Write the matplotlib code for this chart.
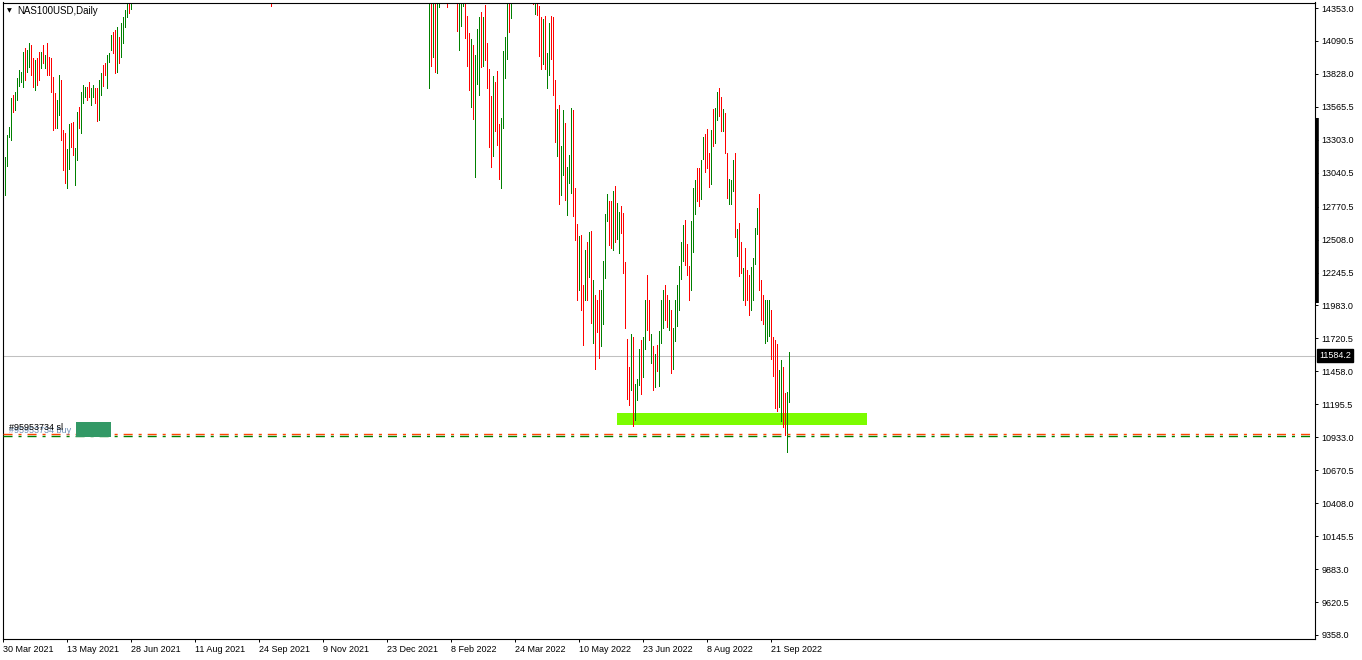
import matplotlib
matplotlib.use("Agg")
import matplotlib.pyplot as plt
from matplotlib.patches import Rectangle
import numpy as np

plt.rcParams['font.family'] = ['Liberation Sans', 'DejaVu Sans']
plt.rcParams['lines.scale_dashes'] = False

# daily bars NAS100USD, 30 Mar 2021 .. early Oct 2022 (high, low, up/down)
highs = [
    12991, 13166, 13341, 13405, 13636, 13660, 13684, 13796, 13859, 13843,
    14003, 14035, 14019, 14074, 14058, 13955, 13939, 13955, 14003, 14003,
    14058, 13979, 14074, 13963, 13955, 13804, 13676, 13620, 13819, 13780,
    13381, 13357, 13230, 13429, 13437, 13445, 13238, 13525, 13565, 13684,
    13740, 13724, 13724, 13764, 13716, 13740, 13716, 13716, 13780, 13835,
    13899, 13915, 13979, 13995, 14138, 14162, 14178, 14202, 14122, 14234,
    14282, 14337, 14460, 14480, 14520,
    # Jul 2021 - Jan 2022, above the visible range
    14560, 14610, 14650, 14700, 14730, 14760, 14740, 14790, 14830, 14850,
    14830, 14900, 14920, 14880, 14850, 14720, 14760, 14880, 15000, 15050,
    15070, 15030, 14990, 15020, 15060, 15100, 15120, 15130, 15080, 15090,
    15120, 15160, 15110, 15100, 15150, 15190, 15210, 15100, 15050, 14990,
    15060, 15150, 15200, 15260, 15300, 15320, 15400, 15420, 15460, 15540,
    15560, 15600, 15700, 15620, 15540, 15460, 15480, 15420, 15450, 15380,
    15200, 15150, 15280, 15320, 15300, 15080, 14980, 14900, 14860, 14780,
    14700, 14800, 14850, 14820, 14660, 14620, 14720, 14860, 14980, 15050,
    15100, 15200, 15300, 15360, 15400, 15420, 15520, 15600, 15700, 15760,
    15760, 15840, 15950, 16020, 16080, 16150, 16160, 16070, 15960, 16000,
    16080, 16150, 16220, 16300, 16360, 16480, 16560, 16480, 16400, 16380,
    16420, 16320, 16150, 16200, 16300, 16250, 16230, 16000, 16000, 15900,
    15880, 16130, 16250, 16300, 16180, 16050, 16000, 15950, 15850, 15760,
    15650, 15800, 15980, 16150, 16300, 16400, 16550, 16450, 16350, 16250,
    16000, 15850, 15700, 15600, 15500, 15400, 15300, 15200,
    # 2022
    14550, 14480, 14430, 14500, 14450, 14480, 14620, 14700, 14750, 14620,
    14640, 14700, 14720, 14660, 14560, 14450, 14480, 14520, 14500, 14290,
    14154, 14106, 14058, 13979, 14186, 14282, 14321, 14282, 14377, 14074,
    13867, 13652, 13812, 13764, 13851, 13429, 13477, 14011, 14122, 14450,
    14520, 14560, 14680, 14850, 15000, 15050, 15150, 15250, 15200, 15050,
    14980, 14850, 14700, 14600, 14550, 14369, 14282, 14266, 14290, 13995,
    14234, 14290, 14282, 13780, 13549, 13580, 13254, 13541, 13437, 13087,
    13182, 13557, 13541, 12919, 12632, 12537, 12545, 12146, 12425, 12489,
    12569, 12577, 12186, 12067, 12027, 12107, 12107, 12338, 12712, 12871,
    12816, 12816, 12895, 12935, 12800, 12728, 12776, 12720, 12330, 11716,
    11493, 11756, 11732, 11358, 11398, 11637, 11708, 11732, 12027, 12226,
    12027, 11756, 11660, 11597, 11668, 11780, 12027, 12107, 12146, 12067,
    12027, 11947, 11804, 12027, 12146, 12298, 12489, 12624, 12664, 12473,
    12298, 12656, 12919, 12983, 13079, 13079, 13142, 13326, 13349, 13389,
    13198, 13381, 13549, 13557, 13684, 13716, 13644, 13549, 13517, 13198,
    12991, 12983, 13142, 13198, 12593, 12640, 12489, 12282, 12441, 12266,
    12226, 12290, 12362, 12601, 12760, 12871, 12186, 12067, 12027, 12027,
    12027, 11947, 11732, 11708, 11676, 11469, 11549, 11493, 11286, 11294,
    11613,
]
lows = [
    12784, 12863, 13094, 13326, 13302, 13525, 13541, 13620, 13732, 13764,
    13724, 13780, 13843, 13883, 13819, 13724, 13700, 13740, 13780, 13875,
    13915, 13875, 13819, 13819, 13684, 13381, 13397, 13397, 13501, 13302,
    13063, 12959, 12919, 13071, 13246, 13182, 12943, 13142, 13397, 13357,
    13596, 13644, 13620, 13644, 13580, 13644, 13596, 13453, 13461, 13660,
    13732, 13819, 13716, 13923, 14019, 13995, 13835, 13843, 13915, 13963,
    14074, 14202, 14282, 14313, 14345,
    14470, 14520, 14560, 14600, 14640, 14650, 14600, 14680, 14700, 14720,
    14700, 14760, 14800, 14750, 14680, 14460, 14560, 14700, 14850, 14900,
    14920, 14880, 14800, 14850, 14920, 14950, 14980, 14990, 14920, 14960,
    14970, 15000, 14950, 14960, 15020, 15050, 15080, 14900, 14860, 14800,
    14880, 15000, 15040, 15080, 15120, 15180, 15240, 15260, 15300, 15380,
    15400, 15460, 15500, 15450, 15380, 15300, 15320, 15250, 15320, 15180,
    14900, 14980, 15100, 15150, 15080, 14720, 14740, 14680, 14650, 14370,
    14450, 14600, 14700, 14600, 14470, 14440, 14500, 14650, 14800, 14900,
    14950, 15080, 15150, 15200, 15250, 15280, 15350, 15420, 15500, 15550,
    15600, 15680, 15760, 15850, 15900, 15950, 16000, 15850, 15750, 15850,
    15920, 16000, 16060, 16130, 16200, 16300, 16350, 16320, 16180, 16220,
    16250, 16050, 15880, 15900, 16050, 15850, 15900, 15620, 15700, 15550,
    15680, 15900, 16060, 16100, 15950, 15800, 15850, 15600, 15520, 15480,
    15450, 15600, 15750, 15950, 16100, 16200, 16250, 16150, 16050, 15800,
    15700, 15550, 15450, 15200, 15300, 15050, 15150, 14800,
    13716, 13891, 13963, 13843, 13835, 14361, 14430, 14500, 14550, 14361,
    14450, 14460, 14500, 14440, 14170, 14019, 14210, 14369, 14114, 13891,
    13700, 13565, 13469, 13007, 13748, 13660, 13883, 13891, 13939, 13716,
    13246, 13087, 13174, 13373, 13262, 12991, 12919, 13397, 13796, 13947,
    14162, 14274, 14450, 14600, 14800, 14850, 14900, 15000, 14950, 14800,
    14750, 14550, 14385, 14305, 14297, 13971, 13867, 13907, 13867, 13716,
    13819, 13947, 13660, 13286, 13174, 12792, 12863, 13023, 12823, 12704,
    12959, 12879, 12696, 12505, 12027, 12107, 11947, 11668, 12027, 12027,
    12210, 11844, 11684, 11477, 11772, 11565, 11660, 11836, 12202, 12656,
    12465, 12441, 12425, 12489, 12513, 12401, 12561, 12242, 11804, 11238,
    11190, 11310, 11023, 11071, 11229, 11350, 11278, 11413, 11637, 11788,
    11708, 11525, 11310, 11334, 11461, 11342, 11684, 11804, 11868, 11812,
    11788, 11445, 11477, 11700, 11820, 11947, 12194, 12338, 12306, 12226,
    12027, 12107, 12409, 12712, 12816, 12776, 12832, 13150, 13047, 13079,
    12927, 12951, 13254, 13278, 13461, 13493, 13373, 13373, 13198, 12840,
    12792, 12792, 12895, 12529, 12377, 12218, 12242, 12027, 11987, 12027,
    11907, 11947, 12027, 12314, 12553, 12107, 11868, 11836, 11684, 11700,
    11740, 11557, 11421, 11166, 11143, 11174, 11063, 11015, 10951, 10816,
    11214,
]
up = [
    0, 1, 1, 1, 1, 0, 1, 1, 1, 1,  1, 0, 1, 1, 0, 0, 1, 0, 0, 1,
    0, 1, 0, 0, 0, 0, 0, 1, 1, 0,  0, 0, 1, 1, 0, 0, 1, 1, 0, 1,
    1, 1, 0, 0, 1, 1, 0, 0, 1, 1,  0, 0, 1, 1, 1, 0, 0, 1, 0, 1,
    1, 1, 1, 0, 1,
    1, 1, 1, 1, 1,  1, 0, 1, 1, 1,  0, 1, 1, 0, 0,  0, 1, 1, 1, 1,
    1, 0, 0, 1, 1,  1, 1, 0, 0, 1,  1, 1, 0, 1, 1,  1, 1, 0, 0, 0,
    1, 1, 1, 1, 1,  1, 1, 0, 1, 1,  1, 1, 1, 0, 0,  0, 1, 0, 1, 0,
    0, 1, 1, 1, 0,  0, 0, 0, 1, 0,  1, 1, 1, 0, 0,  0, 1, 1, 1, 1,
    1, 1, 1, 1, 1,  1, 1, 1, 1, 1,  1, 1, 1, 1, 1,  1, 0, 0, 0, 1,
    1, 1, 1, 1, 1,  1, 1, 0, 0, 1,  0, 0, 0, 1, 1,  0, 0, 0, 1, 0,
    1, 1, 1, 1, 0,  0, 0, 0, 0, 0,  1, 1, 1, 1, 1,  1, 1, 0, 0, 0,
    0, 0, 0, 0, 1,  0, 1, 0,
    1, 0, 1, 0, 1, 1, 1, 1, 0, 0,  1, 1, 0, 0, 0, 1, 1, 1, 0, 0,
    0, 1, 0, 1, 1, 1, 0, 1, 0, 0,  0, 0, 1, 0, 0, 0, 1, 1, 1, 1,
    0, 1, 1, 1, 1, 1, 1, 1, 0, 0,  0, 0, 0, 1, 0, 0, 0, 1, 0, 1,
    1, 0, 0, 0, 1, 0, 1, 1, 0, 1,  1, 1, 0, 0, 0, 1, 0, 0, 1, 0,
    1, 0, 1, 0, 0, 0, 1, 1, 1, 1,  0, 0, 1, 0, 1, 1, 0, 0, 0, 0,
    0, 1, 0, 1, 1, 1, 0, 1, 1, 0,  0, 1, 0, 1, 0, 1, 1, 1, 0, 0,
    1, 0, 1, 1, 1, 1, 1, 1, 0, 0,  0, 1, 1, 1, 0, 0, 1, 1, 0, 0,
    0, 1, 0, 1, 1, 0, 0, 1, 0, 0,  1, 1, 1, 0, 1, 0, 0, 1, 0, 0,
    0, 1, 1, 1, 1, 0, 0, 0, 1, 1,  1, 0, 0, 0, 0, 1, 1, 0, 0, 1,
    1,
]

date_labels = ["30 Mar 2021", "13 May 2021", "28 Jun 2021", "11 Aug 2021",
               "24 Sep 2021", "9 Nov 2021", "23 Dec 2021", "8 Feb 2022",
               "24 Mar 2022", "10 May 2022", "23 Jun 2022", "8 Aug 2022",
               "21 Sep 2022"]
price_ticks = [14353.0, 14090.5, 13828.0, 13565.5, 13303.0, 13040.5, 12770.5,
               12508.0, 12245.5, 11983.0, 11720.5, 11458.0, 11195.5, 10933.0,
               10670.5, 10408.0, 10145.5, 9883.0, 9620.5, 9358.0]

last_price = 11584.2
zone_start, zone_end = 307, 432      # bar index
zone_low, zone_high = 11031, 11127
sl_level = 10962
buy_level = 10946
order_text = "#95953734"

assert len(highs) == len(lows) == len(up)

W, H = 1362, 660
fig = plt.figure(figsize=(W / 100, H / 100), dpi=100)
fig.patch.set_facecolor("white")
ax = fig.add_axes([2.5 / W, 21 / H, 1312.5 / W, 636.5 / H])

x = np.arange(len(highs))
hi = np.array(highs)
lo = np.array(lows)
isup = np.array(up) == 1

ax.axhline(last_price, color="#c0c0c0", lw=0.75, zorder=0.5)
ax.add_patch(Rectangle((zone_start, zone_low), zone_end - zone_start,
                       zone_high - zone_low, color="#7CFC00", lw=0, zorder=1))
ax.vlines(x[isup], lo[isup], hi[isup], colors="#008000", lw=0.6,
          antialiased=False, zorder=2)
ax.vlines(x[~isup], lo[~isup], hi[~isup], colors="#ff0000", lw=0.6,
          antialiased=False, zorder=2)

dash = (6.5, 4.3, 2.2, 4.3)
ax.axhline(sl_level, color="#FF4500", lw=1.0, dashes=dash, zorder=3)
ax.axhline(buy_level, color="#008000", lw=1.0, dashes=dash, zorder=3)

ytr = ax.get_yaxis_transform()
ax.text(0.005, buy_level + 8, order_text + " buy", transform=ytr, fontsize=6.5,
        color="#6f8fb5", va="bottom", ha="left", zorder=4)
ax.text(0.005, sl_level + 10, order_text + " sl", transform=ytr, fontsize=6.5,
        color="black", va="bottom", ha="left", zorder=5)
ax.add_patch(Rectangle((73.5 / 1312.5, 10935), 35 / 1312.5, 120,
                       transform=ytr, color="#339966", lw=0, zorder=4))

ax.set_xlim(-0.25, 656)
ax.set_ylim(9326, 14397)

ax.yaxis.tick_right()
ax.set_yticks(price_ticks)
ax.set_yticklabels([f"{v:.1f}" for v in price_ticks])
ax.set_xticks(np.arange(len(date_labels)) * 32)
ax.set_xticklabels(date_labels, ha="left")
ax.tick_params(axis="y", direction="out", length=2.5, width=0.7, pad=2,
               labelsize=6.5, colors="black")
ax.tick_params(axis="x", direction="out", length=2.5, width=0.7, pad=2,
               labelsize=6.5, colors="black")
for s in ax.spines.values():
    s.set_color("black")
    s.set_linewidth(0.8)

# current price tag and scroll marker on the price scale
ax.text(1.0 + 4 / 1312.5, last_price, f"{last_price:.1f}", transform=ytr,
        fontsize=6.5, color="white", va="center", ha="left",
        bbox=dict(boxstyle="square,pad=0.18", fc="black", ec="black"),
        clip_on=False)
ax.plot([1.0013, 1.0013], [13477, 12003], transform=ytr, color="black",
        lw=2.6, solid_capstyle="butt", clip_on=False)

fig.text(7 / W, 1 - 11 / H, "\u25bc", fontsize=4.5, color="black",
         va="center", ha="left", family="DejaVu Sans")
fig.text(17 / W, 1 - 11 / H, "NAS100USD,Daily", fontsize=7, color="black",
         va="center", ha="left")

fig.savefig("out.png", dpi=100, facecolor="white")
